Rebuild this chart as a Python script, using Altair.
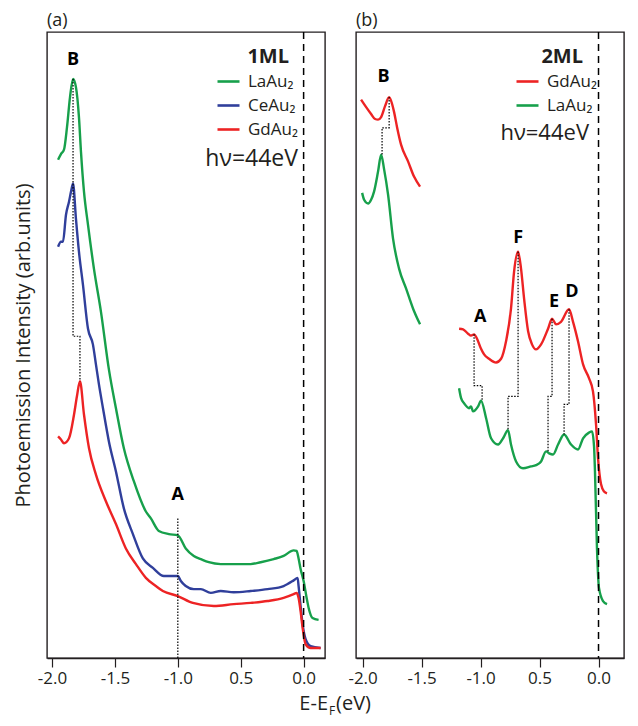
import altair as alt
import pandas as pd

# ---------------- panel (a): 1ML ----------------
A_LA_E = [-1.952, -1.929, -1.905, -1.881, -1.857, -1.833, -1.810, -1.786, -1.770, -1.746, -1.714, -1.667, -1.611, -1.548, -1.492, -1.429, -1.349, -1.254, -1.214, -1.151, -1.071, -1.000, -0.937, -0.873, -0.817, -0.754, -0.659, -0.556, -0.421, -0.341, -0.238, -0.159, -0.079, -0.056, -0.040, -0.024, 0.000, 0.024, 0.040, 0.071, 0.119]
A_LA_I = [79.6, 80.5, 81.2, 84.8, 89.6, 92.5, 91.2, 86.4, 80.9, 74.5, 69.2, 62.2, 55.3, 46.1, 39.9, 33.5, 28.2, 23.4, 22.3, 20.3, 19.8, 19.6, 17.5, 16.3, 15.8, 15.3, 15.0, 15.0, 15.0, 15.3, 15.8, 16.3, 17.2, 17.1, 15.9, 14.2, 12.3, 9.6, 8.0, 6.4, 6.1]

A_CE_E = [-1.952, -1.929, -1.913, -1.889, -1.865, -1.849, -1.833, -1.810, -1.786, -1.754, -1.714, -1.675, -1.651, -1.627, -1.595, -1.548, -1.492, -1.429, -1.357, -1.278, -1.198, -1.111, -1.056, -1.000, -0.976, -0.937, -0.873, -0.817, -0.738, -0.659, -0.556, -0.421, -0.286, -0.159, -0.079, -0.048, -0.040, -0.024, -0.008, 0.016, 0.056, 0.135]
A_CE_I = [65.7, 66.5, 66.5, 70.8, 72.9, 74.5, 75.8, 70.2, 64.9, 59.6, 52.6, 50.1, 46.9, 43.7, 39.9, 34.6, 29.8, 23.9, 19.8, 15.9, 14.4, 13.1, 13.1, 13.1, 12.3, 11.5, 11.0, 11.0, 10.4, 10.7, 10.5, 10.7, 11.0, 11.5, 12.4, 12.8, 11.5, 8.3, 5.4, 3.0, 1.9, 1.6]

A_GD_E = [-1.952, -1.929, -1.905, -1.865, -1.825, -1.802, -1.778, -1.746, -1.706, -1.651, -1.571, -1.492, -1.413, -1.333, -1.254, -1.175, -1.119, -1.000, -0.881, -0.714, -0.556, -0.421, -0.286, -0.159, -0.079, -0.056, -0.040, -0.024, -0.008, 0.016, 0.056, 0.135]
A_GD_I = [35.4, 34.9, 34.3, 35.1, 38.9, 41.8, 44.2, 38.9, 33.5, 29.3, 25.0, 21.4, 17.5, 15.0, 12.8, 11.5, 10.7, 9.9, 8.8, 8.3, 8.6, 8.8, 9.1, 9.6, 10.2, 10.4, 9.6, 7.5, 4.8, 2.2, 1.6, 1.6]

# dotted guides (a)
A_GUIDE_B_E = [-1.833, -1.833, -1.778, -1.778]
A_GUIDE_B_I = [92.5, 51.4, 51.4, 44.2]
A_GUIDE_A_E = [-1.0, -1.0]
A_GUIDE_A_I = [22.3, 0.0]

A_LABELS = ["B", "A"]
A_LABEL_E = [-1.833, -1.0]
A_LABEL_I = [95.5, 26.0]

# ---------------- panel (b): 2ML ----------------
B_GD_HI_E = [-2.013, -1.970, -1.928, -1.894, -1.869, -1.843, -1.809, -1.775, -1.750, -1.733, -1.708, -1.674, -1.614, -1.564, -1.513]
B_GD_HI_I = [89.2, 88.0, 86.9, 86.1, 86.0, 86.4, 88.2, 89.6, 88.5, 87.2, 84.8, 82.0, 79.3, 76.9, 75.3]

B_LA_HI_E = [-2.004, -1.987, -1.953, -1.928, -1.903, -1.869, -1.843, -1.818, -1.784, -1.742, -1.691, -1.631, -1.572, -1.513]
B_LA_HI_I = [74.3, 73.2, 72.6, 73.2, 74.5, 77.7, 80.4, 78.1, 74.0, 67.0, 62.2, 59.0, 55.8, 53.3]

B_GD_LO_E = [-1.182, -1.148, -1.106, -1.081, -1.055, -1.030, -0.996, -0.970, -0.928, -0.869, -0.826, -0.784, -0.742, -0.716, -0.682, -0.657, -0.631, -0.597, -0.564, -0.530, -0.487, -0.428, -0.394, -0.360, -0.318, -0.250, -0.216, -0.174, -0.131, -0.081, -0.047, -0.021, -0.004, 0.021, 0.047, 0.072]
B_GD_LO_I = [52.6, 52.5, 51.8, 51.5, 51.7, 51.0, 49.4, 48.5, 47.8, 47.2, 47.8, 50.6, 55.8, 61.7, 64.9, 62.2, 57.4, 52.2, 50.1, 49.3, 50.1, 52.6, 54.2, 53.3, 53.7, 55.7, 53.7, 50.6, 46.9, 44.7, 42.6, 37.3, 31.9, 27.8, 26.6, 26.3]

B_LA_LO_E = [-1.182, -1.165, -1.140, -1.097, -1.081, -1.064, -1.021, -0.996, -0.953, -0.911, -0.852, -0.809, -0.767, -0.742, -0.699, -0.640, -0.572, -0.530, -0.487, -0.445, -0.419, -0.386, -0.343, -0.292, -0.233, -0.174, -0.131, -0.081, -0.055, -0.038, -0.030, -0.013, 0.004, 0.038, 0.072]
B_LA_LO_I = [43.1, 41.5, 40.7, 39.9, 40.2, 39.4, 40.2, 41.1, 38.3, 35.1, 34.1, 35.1, 36.4, 34.1, 31.4, 30.3, 30.6, 30.8, 31.4, 33.0, 32.7, 32.5, 34.1, 35.7, 34.1, 33.3, 35.1, 36.0, 36.2, 33.8, 29.8, 17.5, 11.2, 9.1, 8.6]

# dotted guides (b)
B_GUIDES = {
    "B": ([-1.775, -1.775, -1.835, -1.835], [89.6, 84.7, 84.7, 80.4]),
    "A": ([-1.055, -1.055, -0.987, -0.987], [51.7, 43.5, 43.5, 41.1]),
    "F": ([-0.682, -0.682, -0.767, -0.767], [64.9, 41.8, 41.8, 36.4]),
    "E": ([-0.394, -0.394, -0.428, -0.428], [54.2, 41.8, 41.8, 33.0]),
    "D": ([-0.250, -0.250, -0.292, -0.292], [55.7, 40.5, 40.5, 35.7]),
}

B_LABELS = ["B", "F", "A", "E", "D"]
B_LABEL_E = [-1.822, -0.682, -1.004, -0.377, -0.225]
B_LABEL_I = [92.8, 67.1, 54.4, 56.8, 58.4]

X_TICKS = [-2.0, -1.5, -1.0, -0.5, 0.0]

LA, CE, GD = "LaAu\u2082", "CeAu\u2082", "GdAu\u2082"
GREEN, BLUE, RED = "#17a04b", "#303f9b", "#ed2324"
INK = "#231f20"
FONT = "Open Sans"


def curve(name, seg, xs, ys):
    return pd.DataFrame({"E": xs, "I": ys, "series": name, "seg": seg, "i": range(len(xs))})


def guide(g, xs, ys):
    return pd.DataFrame({"E": xs, "I": ys, "g": g, "i": range(len(xs))})


label_expr = ("datum.value == -0.5 ? '0.5' : (datum.value < 0 ? '-' + format(-datum.value, '.1f') "
              ": format(datum.value, '.1f'))")


def x_enc(domain):
    return alt.X("E:Q", scale=alt.Scale(domain=domain, nice=False, zero=False),
                 axis=alt.Axis(values=X_TICKS, labelExpr=label_expr, tickSize=9, tickWidth=1.2,
                               tickColor=INK, domainColor=INK, domainWidth=1.3, labelColor=INK,
                               labelFontSize=17, labelFont=FONT, labelPadding=3, grid=False, title=None))


def build_panel(curves, domain_x, order, colors, legend_xy, guides, labels, y_axis, tag, texts, width):
    x = x_enc(domain_x)
    y_scale = alt.Scale(domain=[0, 100], nice=False, zero=False)
    y = alt.Y("I:Q", scale=y_scale, axis=y_axis)
    lines = alt.Chart(curves).mark_line(strokeWidth=2.4, clip=True, interpolate="monotone").encode(
        x=x, y=y,
        color=alt.Color("series:N", scale=alt.Scale(domain=order, range=colors),
                        legend=alt.Legend(orient="none", legendX=legend_xy[0], legendY=legend_xy[1],
                                          title=None, symbolType="stroke", symbolSize=484,
                                          symbolStrokeWidth=2.6, labelFontSize=17, labelFont=FONT,
                                          labelColor=INK, labelOffset=7, rowPadding=3, padding=0)),
        detail="seg:N", order="i:Q")
    dots = alt.Chart(guides).mark_line(color="black", strokeWidth=1.2, strokeDash=[1.5, 1.5]).encode(
        x=alt.X("E:Q"), y=alt.Y("I:Q"), detail="g:N", order="i:Q")
    zero = alt.Chart(pd.DataFrame({"E": [0.0]})).mark_rule(
        color="black", strokeWidth=1.5, strokeDash=[7, 5]).encode(x="E:Q")
    lab = alt.Chart(labels).mark_text(fontSize=18, fontWeight="bold", font=FONT, color="black",
                                      baseline="middle").encode(x="E:Q", y="I:Q", text="t:N")
    layers = [lines, dots, zero, lab]
    for t in texts:
        layers.append(alt.Chart(pd.DataFrame({"t": [t["text"]]})).mark_text(
            align=t.get("align", "right"), baseline="middle", fontSize=t["size"], font=FONT,
            fontWeight=t.get("weight", "normal"), color=INK).encode(
            x=alt.value(t["x"]), y=alt.value(t["y"]), text="t:N"))
    return alt.layer(*layers).properties(
        width=width, height=626,
        title=alt.TitleParams(tag, anchor="start", frame="group", fontSize=18, fontWeight="normal",
                              font=FONT, color=INK, offset=1))


a_curves = pd.concat([curve(LA, "la", A_LA_E, A_LA_I), curve(CE, "ce", A_CE_E, A_CE_I),
                      curve(GD, "gd", A_GD_E, A_GD_I)])
a_guides = pd.concat([guide("B", A_GUIDE_B_E, A_GUIDE_B_I), guide("A", A_GUIDE_A_E, A_GUIDE_A_I)])
a_labels = pd.DataFrame({"t": A_LABELS, "E": A_LABEL_E, "I": A_LABEL_I})

b_curves = pd.concat([curve(GD, "gd_hi", B_GD_HI_E, B_GD_HI_I), curve(LA, "la_hi", B_LA_HI_E, B_LA_HI_I),
                      curve(GD, "gd_lo", B_GD_LO_E, B_GD_LO_I), curve(LA, "la_lo", B_LA_LO_E, B_LA_LO_I)])
b_guides = pd.concat([guide(k, v[0], v[1]) for k, v in B_GUIDES.items()])
b_labels = pd.DataFrame({"t": B_LABELS, "E": B_LABEL_E, "I": B_LABEL_I})

left_y_axis = alt.Axis(title="Photoemission Intensity (arb.units)", labels=False, ticks=False,
                       domain=False, grid=False, titleFontSize=20, titleFontWeight="normal",
                       titleFont=FONT, titleColor=INK, titlePadding=14, minExtent=0)

left = build_panel(
    a_curves, [-2.04, 0.17], [LA, CE, GD], [GREEN, BLUE, RED], (169, 37), a_guides, a_labels,
    left_y_axis, "(a)",
    [
        {"text": "1ML", "x": 242, "y": 25, "size": 20, "weight": "bold"},
        {"text": "h\u03bd=44eV", "x": 251, "y": 127, "size": 23},
        {"text": "E-E", "x": 281, "y": 672, "size": 20},
        {"text": "F", "x": 282, "y": 679, "size": 12, "align": "left"},
        {"text": "(eV)", "x": 289, "y": 672, "size": 20, "align": "left"},
    ],
    278)

right = build_panel(
    b_curves, [-2.056, 0.216], [GD, LA], [RED, GREEN], (159, 37), b_guides, b_labels,
    None, "(b)",
    [
        {"text": "2ML", "x": 227, "y": 25, "size": 20, "weight": "bold"},
        {"text": "h\u03bd=44eV", "x": 233, "y": 101, "size": 22},
    ],
    268)

chart = alt.hconcat(left, right, spacing=31, bounds="flush").resolve_scale(
    x="independent", y="independent", color="independent"
).properties(
    padding={"left": 4, "top": 3, "right": 5, "bottom": 5}
).configure(font=FONT).configure_view(stroke=INK, strokeWidth=1.4)

chart.save("out.html", embed_options={"renderer": "svg", "actions": False})
